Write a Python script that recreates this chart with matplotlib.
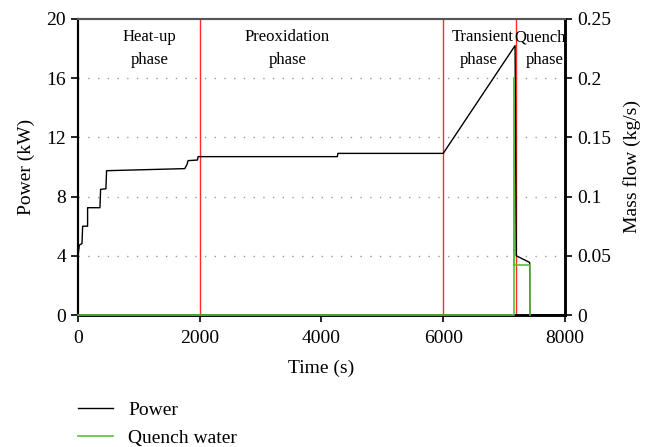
import matplotlib
matplotlib.use("Agg")
import matplotlib.pyplot as plt
from matplotlib.lines import Line2D

plt.rcParams['font.family'] = ['Liberation Serif', 'DejaVu Serif']

# Heater power history (s, kW)
power_t = [0, 22, 66, 77, 158, 158, 361, 372, 459, 470, 1754, 1792, 1809, 1962,
           1973, 4260, 4270, 6000, 7180, 7200, 7420, 7425, 8000]
power_kw = [3.93, 4.72, 4.83, 6.0, 6.0, 7.25, 7.25, 8.49, 8.53, 9.75, 9.89, 10.18,
            10.43, 10.47, 10.70, 10.70, 10.92, 10.92, 18.2, 4.0, 3.55, 0.0, 0.0]

# Quench water mass flow (s, kg/s)
water_t = [0, 7168, 7168, 7170, 7170, 7421, 7421]
water_kg = [0.0, 0.0, 0.2, 0.2, 0.042, 0.042, 0.0]

# Phase boundaries (s)
phase_bounds = [2000, 6000, 7190]

x_ticks = [0, 2000, 4000, 6000, 8000]
p_ticks = [0, 4, 8, 12, 16, 20]
m_ticks = [0, 0.05, 0.1, 0.15, 0.2, 0.25]
m_labels = ["0", "0.05", "0.1", "0.15", "0.2", "0.25"]

fig = plt.figure(figsize=(6.53, 4.47), dpi=100)
ax = fig.add_axes([0.1194, 0.2953, 0.8652 - 0.1194, 0.9575 - 0.2953])
ax2 = ax.twinx()

green = '#5cbf3a'
ax.set_xlim(0, 8000)
ax.set_ylim(0, 20)
ax2.set_ylim(0, 0.25)

for y in p_ticks[1:-1]:
    ax.axhline(y, color='#999999', lw=1.0, ls=(0, (1, 6)), zorder=1)

for b in phase_bounds:
    ax.axvline(b, color='#ff2a2a', lw=1.0, zorder=2)

ax.plot(power_t, power_kw, color='black', lw=1.0, zorder=3)
ax2.plot(water_t, water_kg, color=green, lw=1.2, zorder=3, clip_on=False)

ax.set_xticks(x_ticks)
ax.set_yticks(p_ticks)
ax2.set_yticks(m_ticks)
ax2.set_yticklabels(m_labels)

for a in (ax, ax2):
    a.tick_params(labelsize=14, direction='out', length=5, width=1.2, color='black')
ax.tick_params(axis='x', pad=6)
ax.set_xlabel("Time (s)", fontsize=14, labelpad=9)
ax.set_ylabel("Power (kW)", fontsize=14, labelpad=8)
ax2.set_ylabel("Mass flow (kg/s)", fontsize=14, labelpad=9)

for a in (ax, ax2):
    a.spines['left'].set_linewidth(1.5)
    a.spines['right'].set_linewidth(1.8)
    a.spines['bottom'].set_linewidth(1.8)
    a.spines['top'].set_color('#555555')
    a.spines['top'].set_linewidth(1.5)

txt = dict(fontsize=12, ha='center', va='center')
ax.text(1180, 18.76, "Heat-up", **txt)
ax.text(1180, 17.2, "phase", **txt)
ax.text(3443, 18.76, "Preoxidation", **txt)
ax.text(3443, 17.2, "phase", **txt)
ax.text(6656, 18.76, "Transient", **txt)
ax.text(6590, 17.2, "phase", **txt)
ax.text(7590, 18.76, "Quench", **txt)
ax.text(7672, 17.2, "phase", **txt)

handles = [Line2D([], [], color='black', lw=1.0),
           Line2D([], [], color=green, lw=1.2)]
fig.legend(handles, ["Power", "Quench water"], loc='upper left',
           bbox_to_anchor=(0.107, 0.12), frameon=False, fontsize=14,
           handlelength=1.8, handletextpad=0.8, labelspacing=0.55,
           borderaxespad=0.0)

fig.savefig("out.png", dpi=100)
